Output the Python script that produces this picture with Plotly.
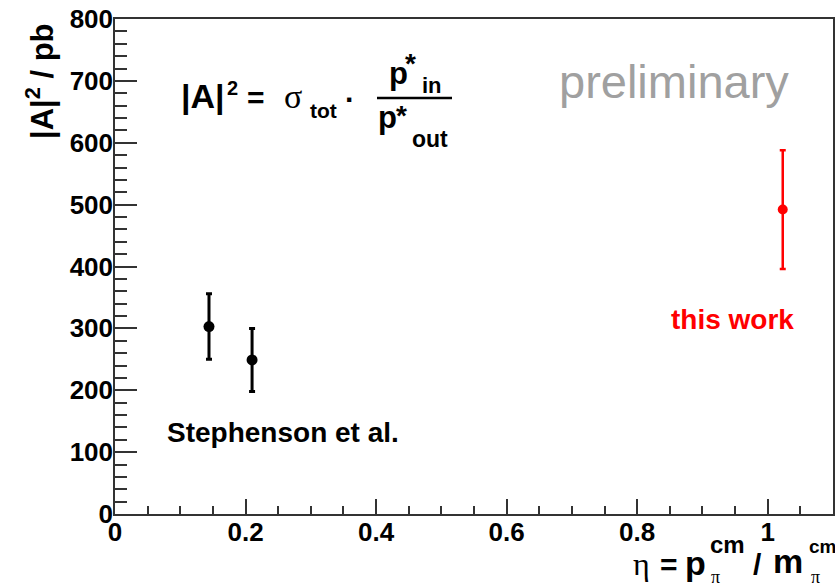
import plotly.graph_objects as go

# ---- data ----
stephenson_eta = [0.144, 0.210]
stephenson_A2 = [303, 249]
stephenson_err = [53, 51]

thiswork_eta = [1.023]
thiswork_A2 = [492]
thiswork_err = [96]

x_range = [0, 1.1]
y_range = [0, 800]
y_ticks = [0, 100, 200, 300, 400, 500, 600, 700, 800]
y_ticklabels = ["0", "100", "200", "300", "400", "500", "600", "700", "800"]
x_ticks = [0, 0.2, 0.4, 0.6, 0.8, 1.0]
x_ticklabels = ["0", "0.2", "0.4", "0.6", "0.8", "1"]

# ---- layout geometry (page pixels) ----
W, H = 835, 587          # browser window == figure (body margin removed below)
L, R, T, B = 115, 833, 19, 514   # plot area in page pixels
PW, PH = R - L, B - T

SANS = "Liberation Sans"
SERIF = "Liberation Serif"


def px(x):
    return (x - L) / PW


def py(y):
    return (B - y) / PH


annotations = []


def ann(text, left, baseline, size, color="black", family=SANS, bold=True, anchor="left"):
    annotations.append(dict(
        text=text, xref="paper", yref="paper",
        x=px(left), y=py(baseline - 0.3465 * size),
        xanchor=anchor, yanchor="middle", showarrow=False, borderpad=0,
        font=dict(family=family, size=size, color=color,
                  weight="bold" if bold else "normal"),
    ))


fig = go.Figure()

fig.add_trace(go.Scatter(
    x=stephenson_eta, y=stephenson_A2, mode="markers",
    marker=dict(color="black", size=11),
    error_y=dict(type="data", array=stephenson_err, color="black", thickness=3, width=3),
    showlegend=False,
))
fig.add_trace(go.Scatter(
    x=thiswork_eta, y=thiswork_A2, mode="markers",
    marker=dict(color="#ff0000", size=10),
    error_y=dict(type="data", array=thiswork_err, color="#ff0000", thickness=2.5, width=3),
    showlegend=False,
))

# formula |A|^2 = sigma_tot . p*_in / p*_out
ann("|A|", 180, 108, 34)
ann("2", 226, 95, 20)
ann("=", 246, 108, 30)
ann("σ", 283, 108, 34, family=SERIF, bold=False)
ann("tot", 309, 118, 21)
ann("·", 344, 110, 30)
ann("p", 388, 84, 31)
ann("*", 404, 73, 28)
ann("in", 421, 93, 22)
ann("p", 377, 128, 31)
ann("*", 395, 125, 28)
ann("out", 411, 147, 23)

# text labels
ann("preliminary", 558, 98, 47, color="#a0a0a0", bold=False)
ann("Stephenson et al.", 166, 442, 28)
ann("this work", 670, 329, 28, color="#ff0000")

# x-axis title
ann("η", 632, 575, 32, family=SERIF, bold=False)
ann("=", 659, 575, 30)
ann("p", 684, 575, 34)
ann("cm", 709, 553, 24)
ann("π", 710, 583, 18, family=SERIF, bold=False)
ann("/", 752, 575, 30)
ann("m", 772, 573, 34)
ann("cm", 808, 553, 19)
ann("π", 810, 583, 18, family=SERIF, bold=False)

# y-axis title (rotated)
annotations.append(dict(
    text="|A|<sup>2</sup> / pb", xref="paper", yref="paper",
    x=px(40), y=py(81), xanchor="center", yanchor="middle",
    textangle=-90, showarrow=False, borderpad=0,
    font=dict(family=SANS, size=31, color="black", weight="bold"),
))

shapes = [dict(type="line", xref="paper", yref="paper",
               x0=px(377), x1=px(452), y0=py(98), y1=py(98),
               line=dict(color="black", width=2.5))]

axis_common = dict(
    showgrid=False, zeroline=False, showline=True, linecolor="#333333",
    linewidth=1.5, mirror=True, ticks="inside", tickcolor="#333333",
    tickwidth=1.5, automargin=False, ticklabeloverflow="allow",
    tickfont=dict(family=SANS, size=26, color="black", weight="bold"),
)

fig.update_layout(
    width=W, height=H,
    margin=dict(l=L, r=W - R, t=T, b=H - B, autoexpand=False),
    paper_bgcolor="white", plot_bgcolor="white",
    xaxis=dict(range=x_range, tickvals=x_ticks, ticktext=x_ticklabels,
               ticklen=15, ticklabelstandoff=-6,
               minor=dict(ticks="inside", dtick=0.05, ticklen=8,
                          tickcolor="#333333", tickwidth=1.5),
               **axis_common),
    yaxis=dict(range=y_range, tickvals=y_ticks, ticktext=y_ticklabels,
               ticklen=22, ticklabelstandoff=-5,
               minor=dict(ticks="inside", dtick=20, ticklen=12,
                          tickcolor="#333333", tickwidth=1.5),
               **axis_common),
    annotations=annotations,
    shapes=shapes,
)

fig.write_html(
    "out.html",
    config={"displayModeBar": False},
    post_script="document.body.style.margin='0';document.body.style.overflow='hidden';",
)
